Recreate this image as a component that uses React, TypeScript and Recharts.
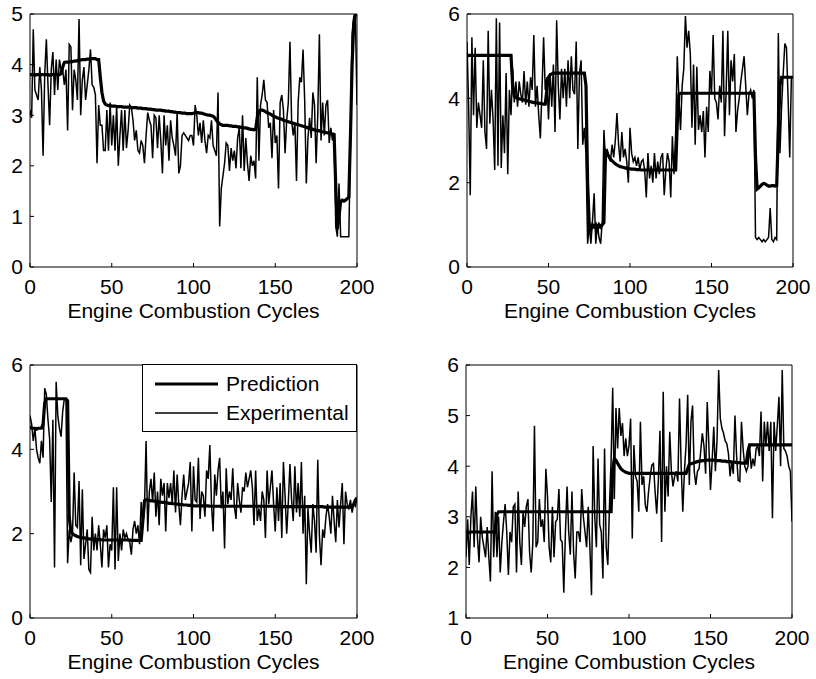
import { LineChart, Line, XAxis, YAxis, Legend } from "recharts";

const FONT = '"Liberation Sans", Arial, Helvetica, sans-serif';
const X_LABEL = "Engine Combustion Cycles";
const X_TICKS = [0, 50, 100, 150, 200];
const LEGEND_NAMES = ["Prediction", "Experimental"];

// top-left panel
const p1Exp = [
  3.1, 2.95, 4.7, 3.5, 3.4, 3.3, 3.95, 3.5, 2.2, 3.8,
  4.5, 3.6, 2.8, 3.9, 4.25, 3.4, 4.1, 3.5, 4.1, 3.9,
  3.9, 3.6, 3.9, 2.7, 4.4, 4.35, 3.1, 3.9, 3.7, 3.3,
  4.9, 3.0, 3.7, 3.95, 3.3, 3.6, 3.9, 4.3, 3.6, 3.55,
  3.4, 2.05, 3.2, 2.8, 2.8, 2.3, 2.3, 3.1, 2.3, 3.25,
  2.4, 3.0, 2.3, 3.2, 2.0, 2.6, 3.1, 2.3, 3.1, 2.35,
  2.7, 3.2, 3.15, 2.9, 2.5, 2.7, 2.3, 2.25, 2.5, 2.4,
  2.05, 2.6, 3.05, 2.9, 2.8, 2.15, 3.0, 2.95, 2.35, 3.0,
  2.5, 1.85, 3.0, 2.4, 2.8, 2.1, 2.9, 2.55, 2.4, 2.2,
  3.05, 1.85, 2.0, 2.6, 2.65, 2.6, 2.55, 2.5, 2.6, 2.6,
  2.4, 3.2, 3.0, 2.6, 2.85, 2.45, 2.9, 2.5, 2.25, 2.6,
  2.55, 2.9, 2.4, 2.3, 2.2, 3.45, 0.8, 1.55, 1.8, 2.05,
  2.45, 2.4, 1.9, 2.35, 2.1, 2.3, 1.95, 2.55, 2.75, 1.95,
  3.0, 1.9, 2.55, 2.05, 1.7, 2.2, 2.0, 2.1, 1.75, 3.75,
  2.1, 3.2, 3.4, 3.7, 3.3, 3.25, 2.75, 2.85, 2.15, 3.1,
  2.45, 2.6, 1.55, 3.25, 3.4, 3.1, 2.25, 2.9, 3.25, 4.45,
  2.9, 2.6, 2.85, 1.7, 3.25, 3.75, 3.65, 4.3, 3.3, 1.65,
  2.55, 2.95, 2.55, 3.45, 3.2, 2.05, 3.0, 4.6, 2.5, 3.25,
  2.6, 3.2, 3.3, 2.45, 2.75, 2.5, 2.65, 0.8, 0.6, 1.65,
  0.6, 0.6, 0.6, 0.6, 0.6, 0.6, 2.5, 4.6, 4.95, 5.0,
  3.2,
];
const p1Pred = [
  3.8, 3.8, 3.8, 3.79, 3.8, 3.8, 3.81, 3.8, 3.8, 3.8,
  3.8, 3.8, 3.79, 3.8, 3.8, 3.8, 3.81, 3.8, 3.8, 3.82,
  3.95, 4.04, 4.05, 4.05, 4.05, 4.06, 4.06, 4.07, 4.07, 4.08,
  4.08, 4.09, 4.1, 4.1, 4.1, 4.11, 4.11, 4.12, 4.12, 4.12,
  4.12, 4.1, 4.1, 3.75, 3.45, 3.28, 3.22, 3.2, 3.19, 3.19,
  3.18, 3.18, 3.18, 3.17, 3.17, 3.17, 3.17, 3.16, 3.16, 3.16,
  3.16, 3.16, 3.15, 3.15, 3.15, 3.15, 3.14, 3.14, 3.14, 3.13,
  3.13, 3.13, 3.12, 3.12, 3.12, 3.11, 3.11, 3.1, 3.1, 3.1,
  3.1, 3.09, 3.09, 3.08, 3.08, 3.08, 3.07, 3.07, 3.06, 3.06,
  3.05, 3.05, 3.05, 3.04, 3.04, 3.04, 3.03, 3.03, 3.03, 3.03,
  3.04, 3.05, 3.05, 3.05, 3.04, 3.04, 3.03, 3.02, 3.01, 3.0,
  3.0, 2.99, 2.98, 2.95, 2.9, 2.86, 2.83, 2.81, 2.8, 2.8,
  2.8, 2.8, 2.79, 2.79, 2.78, 2.78, 2.78, 2.77, 2.77, 2.76,
  2.76, 2.75, 2.75, 2.74, 2.73, 2.72, 2.72, 2.71, 2.72, 2.95,
  3.08, 3.1, 3.1, 3.09, 3.07, 3.05, 3.04, 3.02, 3.0, 2.98,
  2.97, 2.95, 2.94, 2.93, 2.92, 2.9, 2.89, 2.88, 2.87, 2.86,
  2.85, 2.84, 2.83, 2.82, 2.81, 2.8, 2.79, 2.78, 2.77, 2.76,
  2.75, 2.74, 2.73, 2.72, 2.71, 2.7, 2.7, 2.69, 2.68, 2.67,
  2.67, 2.66, 2.65, 2.65, 2.64, 2.63, 2.62, 1.6, 0.75, 1.0,
  1.3, 1.32, 1.3, 1.32, 1.35, 1.38, 2.6, 4.0, 4.8, 5.0,
  5.0,
];

// top-right panel
const p2Exp = [
  5.35, 3.8, 1.7, 5.45, 3.6, 5.2, 3.3, 3.9, 3.6, 3.3,
  4.9, 3.2, 2.8, 5.6, 3.4, 4.2, 3.5, 2.3, 5.9, 2.4,
  5.8, 2.35, 3.6, 2.7, 4.6, 2.2, 4.2, 3.6, 4.7, 3.9,
  4.4, 3.8, 4.4, 4.1, 3.9, 4.65, 3.85, 4.4, 3.8, 4.5,
  4.2, 5.5, 3.8, 4.3, 3.6, 3.05, 4.2, 5.45, 4.2, 4.5,
  3.5, 4.6, 3.8, 4.8, 3.2, 5.85, 4.3, 3.5, 4.7, 4.0,
  4.7, 3.8, 4.9, 4.0, 5.0, 4.2, 4.1, 5.35, 2.8, 4.6,
  4.9, 2.9, 3.3, 2.7, 0.55, 1.0, 0.55, 1.1, 1.75, 0.55,
  1.0, 0.7, 0.55, 1.1, 3.25, 2.5, 2.8, 2.6, 2.5, 2.9,
  2.6, 3.0, 3.65, 2.9, 2.5, 3.2, 2.6, 2.8, 2.5, 2.0,
  3.3, 2.7, 2.5, 2.6, 2.4, 2.6, 2.3, 2.5, 2.55, 2.3,
  1.65, 2.7, 2.1, 2.4, 2.0, 2.7, 2.1, 2.5, 2.2, 2.6,
  2.7, 1.7, 2.3, 2.7, 2.5, 1.65, 3.1, 2.2, 3.15, 5.0,
  4.0, 3.25, 4.3, 4.7, 5.95, 5.2, 5.6, 5.05, 3.3, 4.8,
  2.9, 4.75, 3.25, 3.6, 3.2, 3.7, 2.6, 3.8, 3.2, 4.65,
  4.1, 5.5, 4.0, 3.9, 3.5, 4.3, 3.9, 5.6, 3.1, 4.2,
  5.6, 3.6, 4.9, 4.4, 5.05, 3.2, 3.7, 4.0, 4.4, 4.7,
  5.0, 4.3, 3.6, 4.1, 4.2, 4.0, 4.2, 0.7, 0.65, 0.7,
  0.65, 0.6, 0.65, 0.6, 0.65, 0.7, 1.4, 0.65, 0.6, 0.7,
  0.65, 5.55, 2.7, 3.8, 4.6, 5.3, 5.2, 4.0, 2.6, 4.5,
  4.5,
];
const p2Pred = [
  5.0, 5.02, 5.02, 5.02, 5.02, 5.02, 5.02, 5.02, 5.02, 5.02,
  5.02, 5.02, 5.02, 5.02, 5.02, 5.02, 5.02, 5.02, 5.02, 5.02,
  5.02, 5.02, 5.02, 5.02, 5.02, 5.02, 5.02, 5.02, 4.3, 4.05,
  4.02, 4.0, 3.99, 3.98, 3.97, 3.96, 3.95, 3.94, 3.93, 3.92,
  3.91, 3.9, 3.9, 3.89, 3.88, 3.88, 3.87, 3.86, 3.86, 4.2,
  4.5, 4.56, 4.58, 4.6, 4.6, 4.6, 4.6, 4.6, 4.6, 4.6,
  4.6, 4.6, 4.6, 4.6, 4.6, 4.6, 4.6, 4.6, 4.6, 4.6,
  4.6, 4.6, 4.6, 4.3, 2.0, 1.0, 0.9, 1.0, 0.95, 1.0,
  0.9, 1.0, 0.95, 1.0, 1.05, 2.75, 2.7, 2.62, 2.56, 2.52,
  2.48, 2.45, 2.42, 2.4, 2.38, 2.37, 2.36, 2.35, 2.34, 2.33,
  2.33, 2.32, 2.32, 2.32, 2.31, 2.31, 2.31, 2.3, 2.3, 2.3,
  2.3, 2.3, 2.3, 2.3, 2.3, 2.3, 2.3, 2.3, 2.3, 2.3,
  2.3, 2.3, 2.3, 2.3, 2.3, 2.3, 2.3, 2.3, 2.3, 3.4,
  4.1, 4.12, 4.12, 4.12, 4.12, 4.12, 4.12, 4.12, 4.12, 4.12,
  4.12, 4.12, 4.12, 4.12, 4.12, 4.12, 4.12, 4.12, 4.12, 4.12,
  4.12, 4.12, 4.12, 4.12, 4.12, 4.12, 4.12, 4.12, 4.12, 4.12,
  4.12, 4.12, 4.12, 4.12, 4.12, 4.12, 4.12, 4.12, 4.12, 4.12,
  4.12, 4.12, 4.12, 4.12, 4.12, 4.12, 4.12, 2.6, 1.85, 1.88,
  1.92, 1.96, 1.98, 1.97, 1.94, 1.92, 1.92, 1.93, 1.93, 1.92,
  1.93, 3.2, 4.3, 4.5, 4.5, 4.5, 4.5, 4.5, 4.5, 4.5,
  4.5,
];

// bottom-left panel
const p3Exp = [
  4.8, 4.6, 4.2, 4.5, 4.0, 3.8, 3.67, 4.2, 3.8, 5.45,
  5.3, 4.7, 4.25, 2.75, 4.7, 1.2, 5.6, 4.8, 4.5, 4.3,
  4.9, 5.2, 5.2, 1.3, 2.1, 1.8, 2.0, 3.45, 2.2, 2.15,
  3.25, 1.25, 3.05, 1.4, 1.75, 2.1, 1.15, 1.08, 2.4, 1.6,
  2.0, 1.6, 2.2, 1.75, 1.2, 2.1, 1.9, 2.2, 1.2, 1.75,
  1.6, 3.1, 1.15, 3.1, 1.35, 2.0, 1.6, 2.1, 1.9, 2.0,
  1.85, 1.8, 1.5, 2.1, 2.3, 2.0, 2.2, 1.75, 2.75, 2.2,
  2.6, 4.2, 2.05, 3.0, 3.3, 2.75, 3.45, 2.4, 3.0, 2.2,
  3.3, 2.9, 3.2, 2.05, 3.2, 2.85, 3.2, 2.7, 3.5, 2.5,
  3.4, 2.7, 2.2, 2.9, 3.4, 2.8, 3.0, 3.2, 3.7, 2.05,
  3.6, 2.8, 2.75, 3.8, 2.35, 3.0, 2.9, 2.4, 3.5, 3.3,
  4.1, 2.7, 2.05, 3.4, 2.9, 3.5, 3.8, 2.6, 3.0, 1.65,
  3.55, 2.7, 3.0, 2.8, 3.55, 2.65, 2.35, 3.2, 2.8, 2.5,
  3.1, 3.0, 3.45, 3.1, 3.3, 3.5, 3.1, 2.2, 3.5, 2.3,
  2.6, 2.3, 3.0, 2.8, 1.9, 3.5, 2.7, 3.1, 3.5, 2.7,
  2.05, 3.1, 2.3, 3.2, 1.9, 3.7, 2.9, 2.0, 2.75, 3.65,
  2.8, 2.3, 3.6, 2.5, 3.2, 2.4, 3.7, 2.0, 2.9, 0.8,
  2.6, 2.0, 1.55, 2.7, 2.3, 1.55, 3.75, 1.95, 1.25, 2.1,
  1.9, 2.4, 2.7, 2.4, 2.0, 2.9, 2.3, 1.8, 2.8, 2.15,
  2.7, 3.2, 1.75, 3.0, 2.7, 2.6, 2.8, 2.5, 2.7, 2.65,
  2.85,
];
const p3Pred = [
  4.55, 4.5, 4.5, 4.5, 4.48, 4.5, 4.5, 4.5, 4.6, 5.1,
  5.2, 5.2, 5.2, 5.2, 5.2, 5.2, 5.2, 5.2, 5.2, 5.2,
  5.2, 5.2, 5.2, 5.15, 2.4, 2.05, 2.0, 1.97, 1.95, 1.93,
  1.92, 1.91, 1.9, 1.9, 1.89, 1.88, 1.88, 1.87, 1.87, 1.87,
  1.86, 1.86, 1.86, 1.86, 1.85, 1.85, 1.85, 1.85, 1.85, 1.85,
  1.85, 1.85, 1.85, 1.85, 1.85, 1.85, 1.85, 1.85, 1.85, 1.85,
  1.85, 1.85, 1.84, 1.84, 1.84, 1.84, 1.84, 1.84, 1.84, 2.3,
  2.78, 2.8, 2.8, 2.79, 2.78, 2.78, 2.77, 2.76, 2.76, 2.75,
  2.75, 2.74, 2.74, 2.73, 2.73, 2.72, 2.72, 2.71, 2.71, 2.7,
  2.7, 2.7, 2.69, 2.69, 2.68, 2.68, 2.68, 2.67, 2.67, 2.67,
  2.66, 2.66, 2.66, 2.66, 2.66, 2.66, 2.66, 2.66, 2.66, 2.66,
  2.65, 2.65, 2.65, 2.65, 2.65, 2.65, 2.65, 2.65, 2.65, 2.65,
  2.65, 2.65, 2.65, 2.65, 2.65, 2.65, 2.65, 2.65, 2.65, 2.65,
  2.65, 2.65, 2.65, 2.65, 2.65, 2.65, 2.65, 2.65, 2.65, 2.65,
  2.65, 2.65, 2.65, 2.65, 2.65, 2.65, 2.65, 2.65, 2.65, 2.65,
  2.64, 2.64, 2.64, 2.64, 2.64, 2.64, 2.64, 2.64, 2.64, 2.64,
  2.64, 2.64, 2.64, 2.64, 2.64, 2.64, 2.64, 2.64, 2.64, 2.64,
  2.64, 2.64, 2.64, 2.64, 2.64, 2.64, 2.64, 2.64, 2.64, 2.64,
  2.63, 2.63, 2.63, 2.63, 2.63, 2.63, 2.63, 2.63, 2.63, 2.63,
  2.63, 2.63, 2.63, 2.63, 2.63, 2.63, 2.63, 2.65, 2.7, 2.8,
  2.85,
];

// bottom-right panel
const p4Exp = [
  2.2, 2.95, 2.05, 3.0, 3.5, 2.4, 3.6, 2.6, 2.1, 3.0,
  2.6, 2.4, 2.2, 2.8, 2.2, 1.72, 3.9, 2.2, 3.1, 2.2,
  3.0, 1.9, 2.5, 2.9, 3.25, 2.7, 1.85, 2.7, 2.5, 3.2,
  3.25, 1.9, 3.5, 2.5, 2.05, 3.1, 2.8, 3.2, 3.35, 2.3,
  1.9, 2.5, 4.8, 2.4, 2.5, 3.35, 2.8, 2.95, 2.5, 3.95,
  3.4, 2.4, 2.1, 3.2, 2.2, 2.9, 2.95, 3.55, 2.55, 2.5,
  1.5, 2.7, 3.6, 2.7, 2.25, 3.5, 2.3, 1.78, 2.7, 2.7,
  2.5, 3.55, 3.0, 2.7, 2.4, 3.2, 2.4, 1.45, 4.4, 3.0,
  2.4, 4.15, 2.85, 2.7, 1.78, 4.35, 2.4, 2.05, 3.2, 4.1,
  5.55, 3.35, 5.15, 4.35, 5.15, 4.6, 4.85, 4.2, 4.55, 4.2,
  4.4, 4.94, 2.57, 4.42, 3.8, 3.7, 3.1, 4.88, 3.63, 3.8,
  3.23, 3.1, 3.5, 3.8, 4.02, 4.05, 3.5, 3.06, 3.7, 4.7,
  2.5, 5.47, 3.1, 4.0, 3.4, 4.68, 3.9, 3.6, 3.8, 3.9,
  3.7, 5.34, 4.0, 3.1, 3.9, 4.42, 5.41, 3.63, 4.88, 5.2,
  3.9, 3.63, 3.9, 3.95, 4.3, 4.65, 4.4, 3.85, 5.27, 4.4,
  3.53, 4.1, 4.78, 3.9, 4.5, 5.9, 4.95, 4.75, 4.65, 4.5,
  4.45, 4.25, 3.8, 4.1, 3.85, 5.0, 4.2, 3.72, 3.7, 4.88,
  4.35, 4.0, 3.9, 4.0, 4.4, 3.95, 4.15, 4.0, 4.35, 4.4,
  4.2, 5.08, 3.7, 4.88, 4.4, 4.88, 4.3, 4.88, 2.97, 4.88,
  4.3, 4.81, 5.37, 4.0, 5.9, 4.35, 4.3, 4.2, 4.0, 3.9,
  2.9,
];
const p4Pred = [
  2.7, 2.7, 2.69, 2.7, 2.7, 2.71, 2.7, 2.7, 2.7, 2.69,
  2.7, 2.7, 2.7, 2.7, 2.7, 2.7, 2.7, 2.7, 2.7, 3.05,
  3.1, 3.1, 3.1, 3.1, 3.1, 3.1, 3.1, 3.1, 3.1, 3.1,
  3.1, 3.1, 3.1, 3.1, 3.1, 3.1, 3.1, 3.1, 3.1, 3.1,
  3.1, 3.1, 3.1, 3.1, 3.1, 3.1, 3.1, 3.1, 3.1, 3.1,
  3.1, 3.1, 3.1, 3.1, 3.1, 3.1, 3.1, 3.1, 3.1, 3.1,
  3.1, 3.1, 3.1, 3.1, 3.1, 3.1, 3.1, 3.1, 3.1, 3.1,
  3.1, 3.1, 3.1, 3.1, 3.1, 3.1, 3.1, 3.1, 3.1, 3.1,
  3.1, 3.1, 3.1, 3.1, 3.1, 3.1, 3.1, 3.1, 3.1, 3.1,
  3.95, 4.15, 4.12, 4.06, 4.0, 3.95, 3.92, 3.9, 3.88, 3.87,
  3.86, 3.86, 3.86, 3.86, 3.86, 3.86, 3.86, 3.86, 3.86, 3.86,
  3.86, 3.86, 3.86, 3.86, 3.86, 3.86, 3.86, 3.86, 3.86, 3.86,
  3.86, 3.86, 3.86, 3.86, 3.86, 3.86, 3.86, 3.86, 3.86, 3.86,
  3.86, 3.86, 3.86, 3.86, 3.86, 3.86, 3.95, 4.04, 4.05, 4.06,
  4.07, 4.08, 4.09, 4.1, 4.1, 4.11, 4.11, 4.12, 4.12, 4.12,
  4.12, 4.12, 4.12, 4.12, 4.11, 4.11, 4.11, 4.1, 4.1, 4.1,
  4.09, 4.09, 4.09, 4.08, 4.08, 4.08, 4.07, 4.07, 4.07, 4.06,
  4.06, 4.06, 4.06, 4.3, 4.42, 4.42, 4.42, 4.42, 4.42, 4.42,
  4.42, 4.42, 4.42, 4.42, 4.42, 4.42, 4.42, 4.42, 4.42, 4.42,
  4.42, 4.42, 4.42, 4.42, 4.42, 4.42, 4.42, 4.42, 4.42, 4.42,
  4.42,
];

const FONT_SIZE = 21;
const TOP_PAD = 20;
const tickStyle = { fill: "#000", fontSize: FONT_SIZE, fontFamily: FONT };

function LegendBox() {
  return (
    <svg width={215} height={68} style={{ display: "block" }}>
      <rect x={0.5} y={0.5} width={214} height={67} fill="#fff" stroke="#000" />
      <line x1={13} x2={76} y1={20} y2={20} stroke="#000" strokeWidth={3.2} />
      <line x1={13} x2={76} y1={49} y2={49} stroke="#000" strokeWidth={1.5} />
      <text x={84} y={27} fontSize={FONT_SIZE} fontFamily={FONT} fill="#000">{LEGEND_NAMES[0]}</text>
      <text x={84} y={56} fontSize={FONT_SIZE} fontFamily={FONT} fill="#000">{LEGEND_NAMES[1]}</text>
    </svg>
  );
}

interface PanelProps {
  left: number;
  plotTop: number;
  yw: number;
  pw: number;
  ph: number;
  exp: number[];
  pred: number[];
  yDomain: [number, number];
  yTicks: number[];
  legend?: boolean;
}

function Panel({ left, plotTop, yw, pw, ph, exp, pred, yDomain, yTicks, legend }: PanelProps) {
  const data = exp.map((v, i) => ({ c: i, exp: v, pred: pred[i] }));
  const width = yw + pw + 20;
  const height = TOP_PAD + ph + 60;
  return (
    <div style={{ position: "absolute", left, top: plotTop - TOP_PAD }}>
      <LineChart width={width} height={height} data={data} margin={{ top: TOP_PAD - 1, right: 19, bottom: 0, left: 0 }}>
        <XAxis
          dataKey="c"
          type="number"
          domain={[0, 200]}
          ticks={X_TICKS}
          interval={0}
          allowDataOverflow
          height={60}
          stroke="#000"
          tickSize={-4}
          tickMargin={16}
          tick={tickStyle}
          label={{ value: X_LABEL, position: "insideBottom", offset: 9, fill: "#000", fontSize: FONT_SIZE, fontFamily: FONT }}
        />
        <XAxis
          xAxisId="top"
          orientation="top"
          dataKey="c"
          type="number"
          domain={[0, 200]}
          ticks={X_TICKS}
          interval={0}
          allowDataOverflow
          height={1}
          stroke="#000"
          tickSize={-4}
          tick={false}
        />
        <YAxis
          type="number"
          domain={yDomain}
          ticks={yTicks}
          interval={0}
          allowDataOverflow
          width={yw}
          stroke="#000"
          tickSize={-4}
          tickMargin={11}
          tick={tickStyle}
        />
        <YAxis
          yAxisId="right"
          orientation="right"
          type="number"
          domain={yDomain}
          ticks={yTicks}
          interval={0}
          allowDataOverflow
          width={1}
          stroke="#000"
          tickSize={-4}
          tick={false}
        />
        {legend && (
          <Legend
            layout="horizontal"
            verticalAlign="middle"
            align="center"
            wrapperStyle={{ left: 142, top: TOP_PAD - 1, width: 215, height: 68 }}
            content={() => <LegendBox />}
          />
        )}
        <Line type="linear" dataKey="pred" stroke="#000" strokeWidth={3.2} dot={false} activeDot={false} isAnimationActive={false} />
        <Line type="linear" dataKey="exp" stroke="#000" strokeWidth={1.5} dot={false} activeDot={false} isAnimationActive={false} />
      </LineChart>
    </div>
  );
}

export default function App() {
  return (
    <div style={{ position: "absolute", left: 0, top: 0, width: 816, height: 679, background: "#fff", overflow: "hidden" }}>
      <Panel left={0} plotTop={14} yw={30} pw={327} ph={253} exp={p1Exp} pred={p1Pred} yDomain={[0, 5]} yTicks={[0, 1, 2, 3, 4, 5]} />
      <Panel left={427} plotTop={14} yw={40} pw={326} ph={253} exp={p2Exp} pred={p2Pred} yDomain={[0, 6]} yTicks={[0, 2, 4, 6]} />
      <Panel left={0} plotTop={365} yw={30} pw={327} ph={253} exp={p3Exp} pred={p3Pred} yDomain={[0, 6]} yTicks={[0, 2, 4, 6]} legend />
      <Panel left={426} plotTop={365} yw={40} pw={326} ph={253} exp={p4Exp} pred={p4Pred} yDomain={[1, 6]} yTicks={[1, 2, 3, 4, 5, 6]} />
    </div>
  );
}
